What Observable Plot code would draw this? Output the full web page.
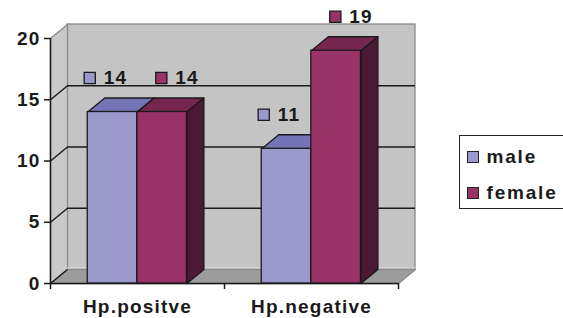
<!DOCTYPE html>
<html><head><meta charset="utf-8">
<script src="https://cdn.jsdelivr.net/npm/d3@7"></script>
<script src="https://cdn.jsdelivr.net/npm/@observablehq/plot@0.6"></script>
<style>
body{margin:0;background:#fff;overflow:hidden;}
#wrap{position:relative;width:563px;height:318px;overflow:hidden;font-family:"Liberation Sans",Arial,sans-serif;}
#wrap svg text{font-family:"Liberation Sans",Arial,sans-serif;font-weight:bold;letter-spacing:1.2px;}
.legend{position:absolute;left:459px;top:135px;width:112px;height:74px;border:1.5px solid #222;box-sizing:border-box;background:#fff;}
.sw{position:absolute;width:12px;height:12px;border:1.3px solid #222;box-sizing:border-box;}
.lt{position:absolute;font-size:19px;line-height:19px;font-weight:bold;letter-spacing:1.8px;color:#1a1a1a;}
</style>
</head><body>
<div id="wrap"></div>
<script>
// ---- data ----
const categories = ["Hp.positve", "Hp.negative"];
const seriesNames = ["male", "female"];
const male = [14, 11];
const female = [14, 19];
const yTicks = [0, 5, 10, 15, 20];

// ---- style / layout constants ----
const FRONT = {male: "#9999cc", female: "#993366"};
const TOP = {male: "#7373b6", female: "#74264e"};
const SIDE = {male: "#55558f", female: "#4c1934"};
const X_RANGE = [50, 398], Y_RANGE = [283, 38];
const X_DOMAIN = [0, categories.length], Y_DOMAIN = [0, 20];
const pxX = (X_DOMAIN[1] - X_DOMAIN[0]) / (X_RANGE[1] - X_RANGE[0]);
const pxY = (Y_DOMAIN[1] - Y_DOMAIN[0]) / (Y_RANGE[0] - Y_RANGE[1]);
const DX = 17 * pxX, DY = 14 * pxY;          // depth offset in data units
const BAR_START = 0.214, BAR_W = 0.285;

const rows = [];
categories.forEach((c, ci) => {
  [male, female].forEach((arr, si) => {
    const x1 = ci + BAR_START + si * BAR_W;
    rows.push({cat: c, ci, series: seriesNames[si], value: arr[ci], x1, x2: x1 + BAR_W});
  });
});

function poly(list, fn) {
  const pts = [];
  list.forEach((r, k) => { const v = fn(r); v.push(v[0]); v.forEach(([x, y]) => pts.push({x, y, id: k})); });
  return pts;
}
const tops = s => poly(rows.filter(r => r.series === s), r => [[r.x1, r.value], [r.x2, r.value], [r.x2 + DX, r.value + DY], [r.x1 + DX, r.value + DY]]);
const sides = s => poly(rows.filter(r => r.series === s), r => [[r.x2, 0], [r.x2, r.value], [r.x2 + DX, r.value + DY], [r.x2 + DX, DY]]);
const sideWall = poly([0], () => [[0, 0], [0, 20], [DX, 20 + DY], [DX, DY]]);
const floor = poly([0], () => [[0, 0], [X_DOMAIN[1], 0], [X_DOMAIN[1] + DX, DY], [DX, DY]]);

const dark = "#1a1a1a", edge = "#8a8a8a";
const barMarks = [];
for (const s of seriesNames) {
  const data = rows.filter(r => r.series === s);
  barMarks.push(
    Plot.line(tops(s), {x: "x", y: "y", z: "id", fill: TOP[s], stroke: dark, strokeWidth: 1.3}),
    Plot.line(sides(s), {x: "x", y: "y", z: "id", fill: SIDE[s], stroke: dark, strokeWidth: 1.3}),
    Plot.rect(data, {x1: "x1", x2: "x2", y1: 0, y2: "value", fill: FRONT[s], stroke: dark, strokeWidth: 1.3})
  );
}
const labelMarks = [];
seriesNames.forEach((s, si) => {
  const data = rows.filter(r => r.series === s);
  const off = si === 0 ? 2 : 24;
  labelMarks.push(
    Plot.dot(data, {x: "x1", y: "value", dx: off, dy: -34, symbol: "square", r: 6.3, fill: FRONT[s], stroke: dark, strokeWidth: 1.3}),
    Plot.text(data, {x: "x1", y: "value", text: d => String(d.value), dx: off + 14, dy: -34, textAnchor: "start", fontSize: 19, fill: "#1a1a1a"})
  );
});

const chart = Plot.plot({
  width: 563, height: 318,
  marginLeft: 0, marginRight: 0, marginTop: 0, marginBottom: 0,
  x: {type: "linear", domain: X_DOMAIN, range: X_RANGE, axis: null},
  y: {type: "linear", domain: Y_DOMAIN, range: Y_RANGE, axis: null},
  style: {background: "transparent", overflow: "visible"},
  marks: [
    // walls
    Plot.rect([0], {x1: DX, x2: X_DOMAIN[1] + DX, y1: DY, y2: 20 + DY, fill: "#c4c4c4", stroke: edge, strokeWidth: 1.3}),
    Plot.line(sideWall, {x: "x", y: "y", z: "id", fill: "#c9c9c9", stroke: edge, strokeWidth: 1.3}),
    Plot.line(floor, {x: "x", y: "y", z: "id", fill: "#9c9c9c", stroke: edge, strokeWidth: 1.3}),
    Plot.ruleY([0], {x1: DX, x2: X_DOMAIN[1] + DX, y: d => d + DY, dy: -1.5, stroke: "#e2e2e2", strokeWidth: 1}),
    // back-wall gridlines and side-wall diagonals
    Plot.ruleY(yTicks.filter(t => t > 0 && t < 20), {x1: DX, x2: X_DOMAIN[1] + DX, y: d => d + DY, stroke: dark, strokeWidth: 1.4}),
    Plot.link(yTicks.filter(t => t < 20), {x1: 0, y1: d => d, x2: DX, y2: d => d + DY, stroke: dark, strokeWidth: 1.4}),
    // axis lines & ticks
    Plot.ruleX([0], {x: 0, y1: 0, y2: 20, stroke: dark, strokeWidth: 1.5}),
    Plot.ruleY([0], {y: 0, x1: 0, x2: X_DOMAIN[1], stroke: dark, strokeWidth: 1.5}),
    Plot.ruleY(yTicks, {y: d => d, x1: -6 * pxX, x2: 0, stroke: dark, strokeWidth: 1.5}),
    Plot.ruleX(d3.range(categories.length + 1), {x: d => d, y1: 0, y2: -6 * pxY, stroke: dark, strokeWidth: 1.5}),
    Plot.text(yTicks, {x: 0, y: d => d, text: d => String(d), textAnchor: "end", dx: -10, fontSize: 19, fill: "#1a1a1a"}),
    Plot.text(categories, {x: (d, i) => i + 0.5, y: 0, text: d => d, dy: 23, textAnchor: "middle", fontSize: 19, fill: "#1a1a1a"}),
    ...barMarks,
    ...labelMarks
  ]
});
const wrap = document.getElementById("wrap");
wrap.appendChild(chart);

// legend
const legend = document.createElement("div");
legend.className = "legend";
seriesNames.forEach((s, i) => {
  const sw = document.createElement("div");
  sw.className = "sw"; sw.style.background = FRONT[s];
  sw.style.left = "6.5px"; sw.style.top = (14.5 + i * 36) + "px";
  const t = document.createElement("div");
  t.className = "lt"; t.textContent = s;
  t.style.left = "26.5px"; t.style.top = (11.4 + i * 36) + "px";
  legend.appendChild(sw); legend.appendChild(t);
});
wrap.appendChild(legend);
</script>
</body></html>
